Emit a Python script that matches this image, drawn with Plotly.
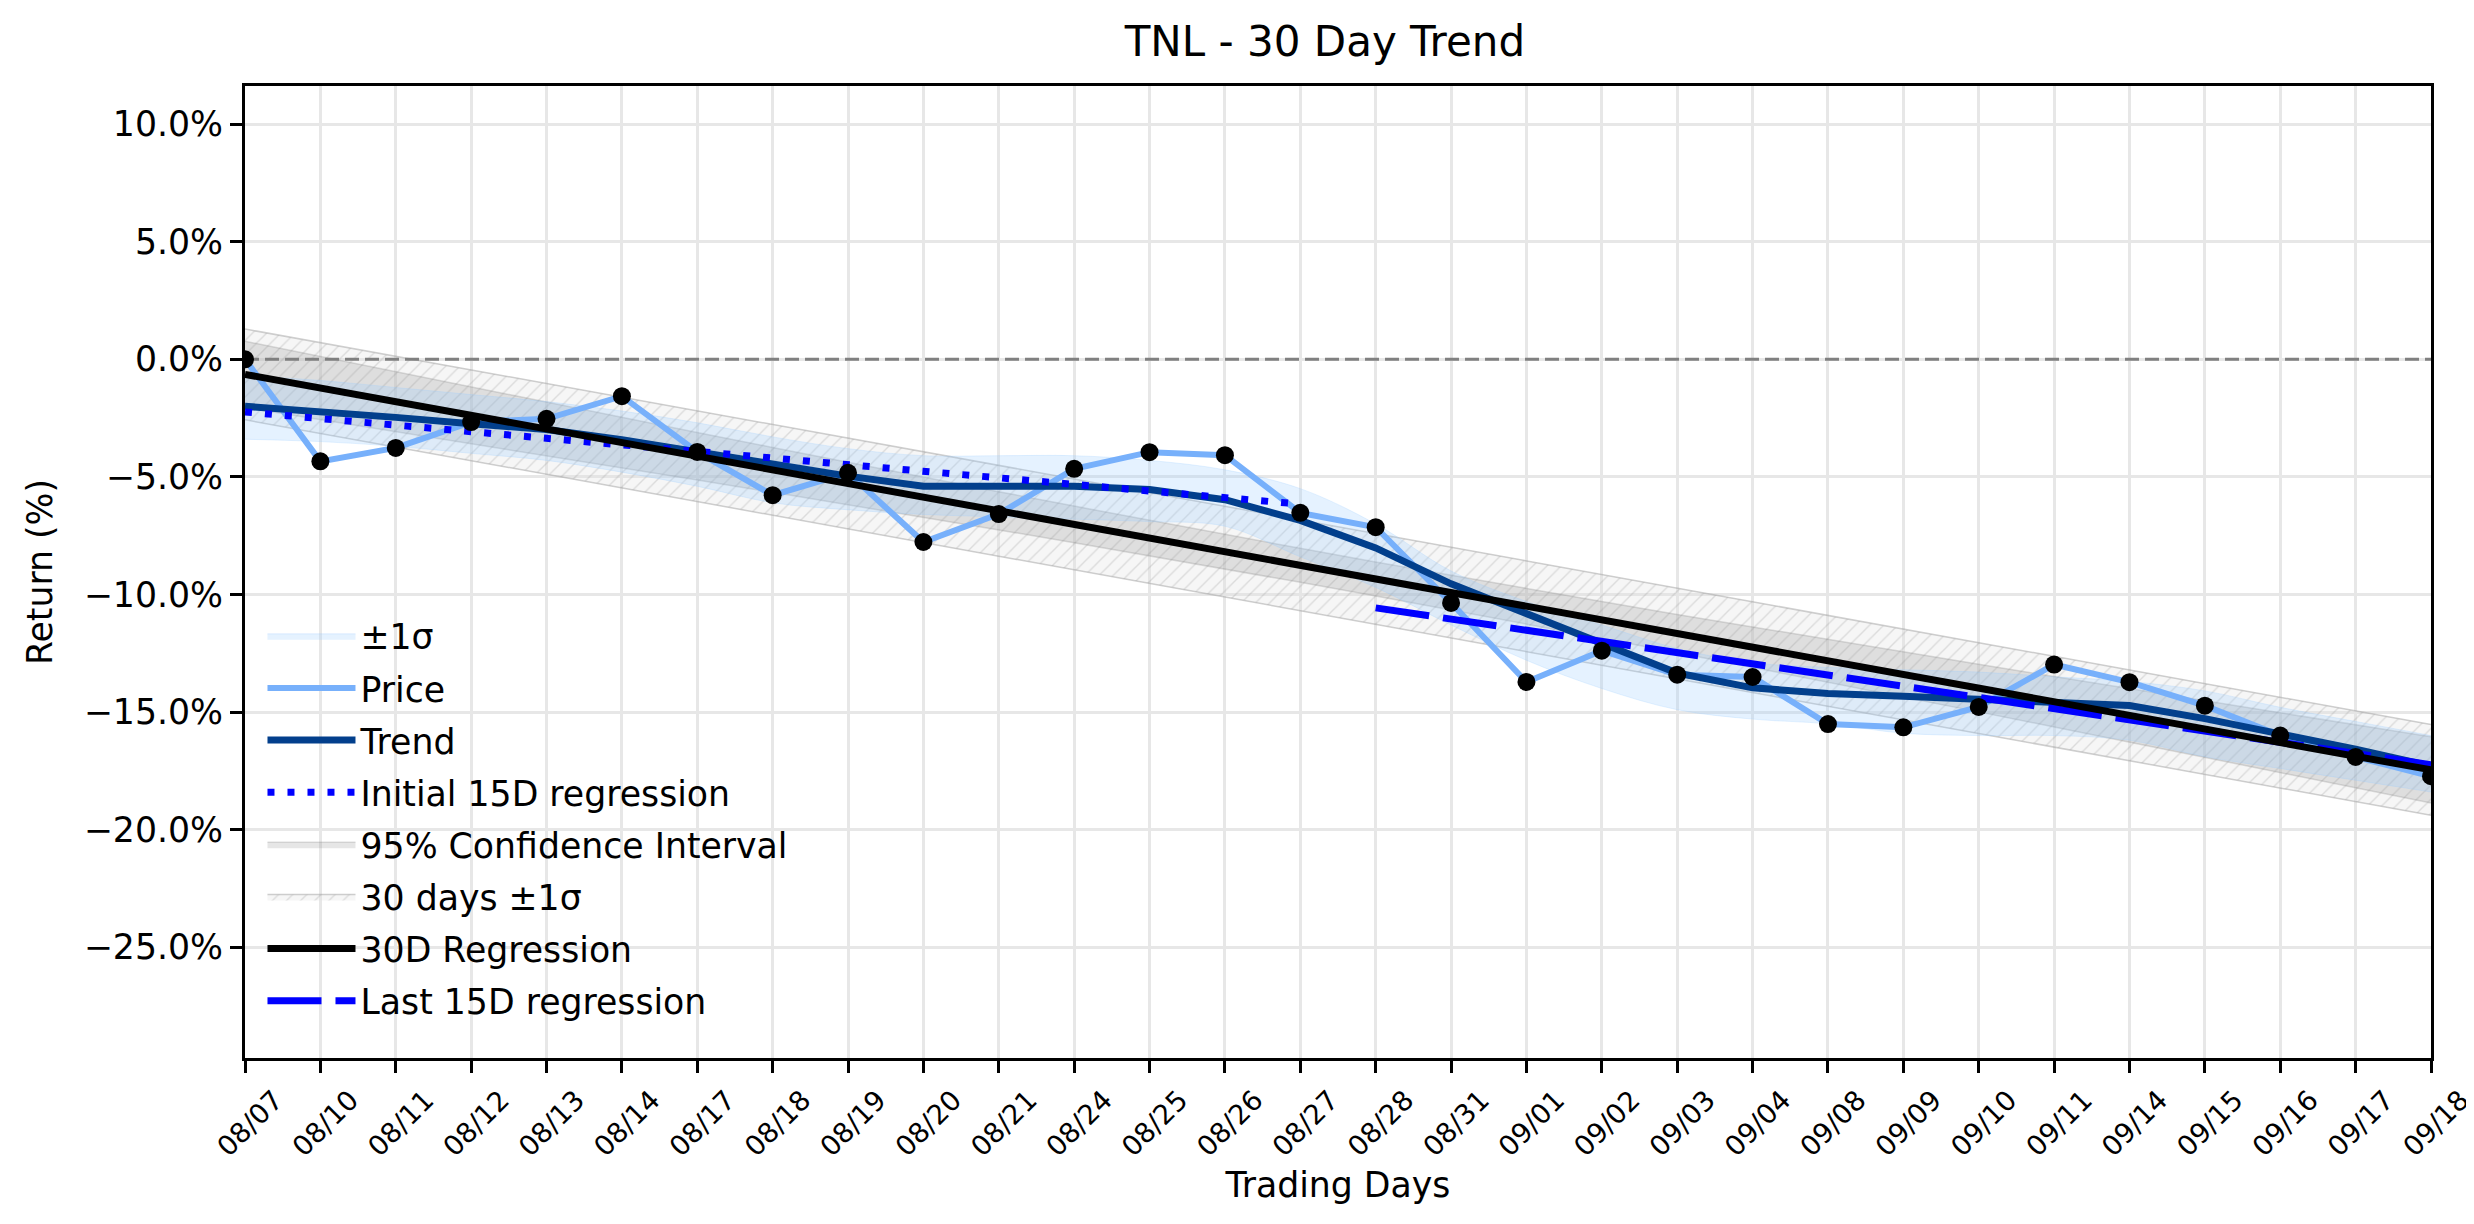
import numpy as np
import plotly.graph_objects as go

# Trading days on the x axis
dates = ["08/07", "08/10", "08/11", "08/12", "08/13", "08/14", "08/17", "08/18",
         "08/19", "08/20", "08/21", "08/24", "08/25", "08/26", "08/27", "08/28",
         "08/31", "09/01", "09/02", "09/03", "09/04", "09/08", "09/09", "09/10",
         "09/11", "09/14", "09/15", "09/16", "09/17", "09/18"]

# Cumulative return (%) of the closing price
price = [0.00, -4.34, -3.77, -2.67, -2.53, -1.57, -3.94, -5.78, -4.83, -7.77,
         -6.58, -4.66, -3.95, -4.08, -6.53, -7.14, -10.36, -13.72, -12.39, -13.41,
         -13.51, -15.51, -15.65, -14.78, -12.98, -13.73, -14.73, -16.00, -16.91, -17.73]

# Smoothed trend line
trend = [-2.00, -2.21, -2.47, -2.74, -2.99, -3.42, -3.94, -4.48, -4.97, -5.40,
         -5.40, -5.40, -5.54, -5.97, -6.85, -8.02, -9.55, -10.82, -12.13, -13.34,
         -13.97, -14.21, -14.33, -14.47, -14.59, -14.72, -15.28, -15.90, -16.58, -17.30]

# +/- 1 sigma band around the trend
band_hi = [-0.70, -0.90, -1.20, -1.50, -1.80, -2.20, -2.70, -3.30, -3.80, -4.10,
           -4.10, -4.10, -4.30, -4.70, -5.50, -7.00, -9.00, -10.30, -11.30, -12.30,
           -12.90, -13.10, -13.20, -13.30, -13.50, -13.70, -14.10, -14.80, -15.40, -16.00]
band_lo = [-3.40, -3.50, -3.70, -4.00, -4.30, -4.80, -5.40, -6.10, -6.40, -6.60,
           -6.70, -6.80, -6.90, -7.10, -8.40, -9.70, -11.30, -12.80, -14.00, -14.90,
           -15.30, -15.50, -15.90, -16.00, -16.00, -16.20, -16.90, -17.40, -17.90, -18.40]

# y axis ticks (%)
yticks = [-25, -20, -15, -10, -5, 0, 5, 10]

x = np.arange(len(dates))
y = np.array(price)

# 30 day regression, residual sigma and 95% confidence interval
slope, icpt = np.polyfit(x, y, 1)
fit30 = icpt + slope * x
s = np.sqrt(np.sum((y - fit30) ** 2) / (len(x) - 2))
t95 = 2.048  # t(0.975, df=28)
xm = x.mean()
ci = t95 * s * np.sqrt(1 / len(x) + (x - xm) ** 2 / np.sum((x - xm) ** 2))

# 15 day regressions on each half
half = 15
xa, xb = x[:half], x[half:]
fa = np.polyval(np.polyfit(xa, y[:half], 1), xa)
fb = np.polyval(np.polyfit(xb, y[half:], 1), xb)

FONT = "DejaVu Sans"
FS = 34.7  # 10pt
price_color = "#77b0fb"
trend_color = "#023f8c"

fig = go.Figure()

# hatched 30 day +/- 1 sigma band
fig.add_trace(go.Scatter(x=x, y=fit30 - s, mode="lines", line=dict(width=1.5, color="rgba(160,160,160,0.5)"),
                         showlegend=False, hoverinfo="skip", legendgroup="g6"))
fig.add_trace(go.Scatter(x=x, y=fit30 + s, mode="lines", fill="tonexty", name="30 days ±1σ",
                         line=dict(width=1.5, color="rgba(160,160,160,0.5)"),
                         fillcolor="rgba(225,225,225,0.3)",
                         fillpattern=dict(shape="/", fgcolor="rgba(140,140,140,0.5)",
                                          bgcolor="rgba(228,228,228,0.3)", size=10, solidity=0.14),
                         legendrank=6, legendgroup="g6"))

# 95% confidence interval
fig.add_trace(go.Scatter(x=x, y=fit30 - ci, mode="lines", line=dict(width=1.5, color="rgba(128,128,128,0.25)"),
                         showlegend=False, hoverinfo="skip", legendgroup="g5"))
fig.add_trace(go.Scatter(x=x, y=fit30 + ci, mode="lines", fill="tonexty", name="95% Confidence Interval",
                         line=dict(width=1.5, color="rgba(128,128,128,0.25)"),
                         fillcolor="rgba(128,128,128,0.2)", legendrank=5, legendgroup="g5"))

# +/- 1 sigma band around trend
fig.add_trace(go.Scatter(x=x, y=band_lo, mode="lines", line=dict(width=1, color="rgba(153,204,255,0.25)", shape="spline"),
                         showlegend=False, hoverinfo="skip", legendgroup="g1"))
fig.add_trace(go.Scatter(x=x, y=band_hi, mode="lines", fill="tonexty", name="±1σ",
                         line=dict(width=1, color="rgba(153,204,255,0.25)", shape="spline"),
                         fillcolor="rgba(153,204,255,0.25)", legendrank=1, legendgroup="g1"))

# zero reference line
fig.add_trace(go.Scatter(x=[x[0], x[-1]], y=[0, 0], mode="lines", showlegend=False,
                         line=dict(color="#808080", width=3, dash="14px,6px"), legendgroup="g0"))

fig.add_trace(go.Scatter(x=x, y=price, mode="lines", name="Price",
                         line=dict(color=price_color, width=6), legendrank=2, legendgroup="g2"))
fig.add_trace(go.Scatter(x=x, y=trend, mode="lines", name="Trend",
                         line=dict(color=trend_color, width=7), legendrank=3, legendgroup="g3"))
fig.add_trace(go.Scatter(x=xa, y=fa, mode="lines", name="Initial 15D regression",
                         line=dict(color="#0000ff", width=7, dash="7px,13px"), legendrank=4, legendgroup="g4"))
fig.add_trace(go.Scatter(x=xb, y=fb, mode="lines", name="Last 15D regression",
                         line=dict(color="#0000ff", width=7, dash="54px,14px"), legendrank=8, legendgroup="g8"))
fig.add_trace(go.Scatter(x=x, y=fit30, mode="lines", name="30D Regression",
                         line=dict(color="black", width=7), legendrank=7, legendgroup="g7"))
fig.add_trace(go.Scatter(x=x, y=price, mode="markers", showlegend=False,
                         marker=dict(color="black", size=18), legendgroup="g0"))

fig.update_layout(
    width=2474, height=1224,
    paper_bgcolor="white", plot_bgcolor="white",
    font=dict(family=FONT, size=FS, color="black"),
    title=dict(text="TNL - 30 Day Trend", xref="paper", x=0.494, xanchor="center",
               y=0.973, yanchor="middle", font=dict(size=42)),
    margin=dict(l=237, r=51, t=78, b=174, autoexpand=False),
    legend=dict(x=0.008, y=0.029, xanchor="left", yanchor="bottom", bgcolor="rgba(0,0,0,0)",
                font=dict(size=FS), itemwidth=88, tracegroupgap=4, traceorder="grouped"),
    showlegend=True,
)

fig.update_xaxes(
    range=[x[0], x[-1]], tickmode="array", tickvals=x, ticktext=dates, tickangle=-45,
    ticklabelshift=30,
    tickfont=dict(size=27.5), ticks="outside", ticklen=12, tickwidth=2.5, tickcolor="black",
    showgrid=True, gridcolor="#e7e7e7", gridwidth=2.5,
    showline=True, linecolor="black", linewidth=3, mirror=True, zeroline=False,
    title=dict(text="Trading Days", font=dict(size=FS), standoff=12),
)
fig.update_yaxes(
    range=[-29.71, 11.62], tickmode="array", tickvals=yticks,
    ticktext=[f"{v:.1f}%".replace("-", "\u2212") for v in yticks],
    tickfont=dict(size=FS), ticks="outside", ticklen=12, tickwidth=2.5, tickcolor="black",
    showgrid=True, gridcolor="#e7e7e7", gridwidth=2.5,
    showline=True, linecolor="black", linewidth=3, mirror=True, zeroline=False,
    title=dict(text="Return (%)", font=dict(size=FS), standoff=21),
)

fig.write_html("out.html")
